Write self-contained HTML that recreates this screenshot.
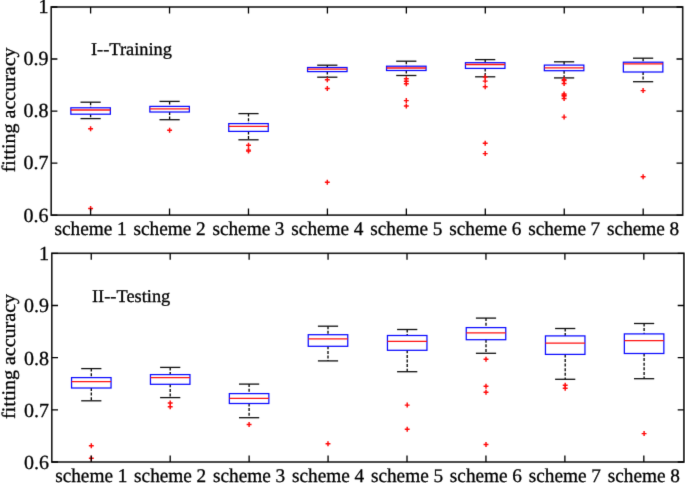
<!DOCTYPE html>
<html><head><meta charset="utf-8"><style>
html,body{margin:0;padding:0;background:#fff;}
body{width:685px;height:483px;overflow:hidden;}
svg{display:block;}
#w{width:685px;height:483px;}
text{font-family:"Liberation Serif",serif;text-rendering:geometricPrecision;fill:#000;stroke:#000;stroke-width:0.3px;}
</style></head><body>
<div id="w"><svg width="685" height="483" viewBox="0 0 685 483">
<defs><filter id="bl" x="0" y="0" width="685" height="483" filterUnits="userSpaceOnUse" color-interpolation-filters="sRGB"><feConvolveMatrix order="3" kernelMatrix="0.0081 0.0738 0.0081 0.0738 0.6724 0.0738 0.0081 0.0738 0.0081" divisor="1" edgeMode="duplicate" preserveAlpha="true"/></filter></defs>
<g filter="url(#bl)">
<rect x="0" y="0" width="685" height="483" fill="#fff"/>

<line x1="90.6" y1="102.2" x2="90.6" y2="107.8" stroke="#000" stroke-width="1.3" stroke-dasharray="3 1.6"/>
<line x1="90.6" y1="114.2" x2="90.6" y2="118.6" stroke="#000" stroke-width="1.3" stroke-dasharray="3 1.6"/>
<line x1="80.5" y1="102.2" x2="100.7" y2="102.2" stroke="#111" stroke-width="1.3"/>
<line x1="80.5" y1="118.6" x2="100.7" y2="118.6" stroke="#111" stroke-width="1.3"/>
<rect x="70.85" y="107.8" width="39.5" height="6.4" fill="none" stroke="#0a0aff" stroke-width="1.25"/>
<line x1="70.85" y1="110" x2="110.35" y2="110" stroke="#ff1010" stroke-width="1.3"/>
<path d="M88.15 128.8H93.05M90.6 126.3V131.3" stroke="#ff0a0a" stroke-width="1.45" fill="none"/>
<path d="M88.15 208.4H93.05M90.6 205.9V210.9" stroke="#ff0a0a" stroke-width="1.45" fill="none"/>
<line x1="169.6" y1="101.4" x2="169.6" y2="106.4" stroke="#000" stroke-width="1.3" stroke-dasharray="3 1.6"/>
<line x1="169.6" y1="112" x2="169.6" y2="119.7" stroke="#000" stroke-width="1.3" stroke-dasharray="3 1.6"/>
<line x1="159.5" y1="101.4" x2="179.7" y2="101.4" stroke="#111" stroke-width="1.3"/>
<line x1="159.5" y1="119.7" x2="179.7" y2="119.7" stroke="#111" stroke-width="1.3"/>
<rect x="149.85" y="106.4" width="39.5" height="5.6" fill="none" stroke="#0a0aff" stroke-width="1.25"/>
<line x1="149.85" y1="108.8" x2="189.35" y2="108.8" stroke="#ff1010" stroke-width="1.3"/>
<path d="M167.15 130.2H172.05M169.6 127.7V132.7" stroke="#ff0a0a" stroke-width="1.45" fill="none"/>
<line x1="248.5" y1="113.6" x2="248.5" y2="123.6" stroke="#000" stroke-width="1.3" stroke-dasharray="3 1.6"/>
<line x1="248.5" y1="131.4" x2="248.5" y2="139.8" stroke="#000" stroke-width="1.3" stroke-dasharray="3 1.6"/>
<line x1="238.4" y1="113.6" x2="258.6" y2="113.6" stroke="#111" stroke-width="1.3"/>
<line x1="238.4" y1="139.8" x2="258.6" y2="139.8" stroke="#111" stroke-width="1.3"/>
<rect x="228.75" y="123.6" width="39.5" height="7.8" fill="none" stroke="#0a0aff" stroke-width="1.25"/>
<line x1="228.75" y1="126.4" x2="268.25" y2="126.4" stroke="#ff1010" stroke-width="1.3"/>
<path d="M246.05 145.3H250.95M248.5 142.8V147.8" stroke="#ff0a0a" stroke-width="1.45" fill="none"/>
<path d="M246.05 150.1H250.95M248.5 147.6V152.6" stroke="#ff0a0a" stroke-width="1.45" fill="none"/>
<path d="M246.05 151.1H250.95M248.5 148.6V153.6" stroke="#ff0a0a" stroke-width="1.45" fill="none"/>
<line x1="327.3" y1="65.2" x2="327.3" y2="67.5" stroke="#000" stroke-width="1.3" stroke-dasharray="3 1.6"/>
<line x1="327.3" y1="71.6" x2="327.3" y2="77.2" stroke="#000" stroke-width="1.3" stroke-dasharray="3 1.6"/>
<line x1="317.2" y1="65.2" x2="337.4" y2="65.2" stroke="#111" stroke-width="1.3"/>
<line x1="317.2" y1="77.2" x2="337.4" y2="77.2" stroke="#111" stroke-width="1.3"/>
<rect x="307.55" y="67.5" width="39.5" height="4.1" fill="none" stroke="#0a0aff" stroke-width="1.25"/>
<line x1="307.55" y1="69.1" x2="347.05" y2="69.1" stroke="#ff1010" stroke-width="1.3"/>
<path d="M324.85 79.8H329.75M327.3 77.3V82.3" stroke="#ff0a0a" stroke-width="1.45" fill="none"/>
<path d="M324.85 88.5H329.75M327.3 86V91" stroke="#ff0a0a" stroke-width="1.45" fill="none"/>
<path d="M324.85 182.3H329.75M327.3 179.8V184.8" stroke="#ff0a0a" stroke-width="1.45" fill="none"/>
<line x1="406.3" y1="61.2" x2="406.3" y2="66.2" stroke="#000" stroke-width="1.3" stroke-dasharray="3 1.6"/>
<line x1="406.3" y1="70.5" x2="406.3" y2="75.5" stroke="#000" stroke-width="1.3" stroke-dasharray="3 1.6"/>
<line x1="396.2" y1="61.2" x2="416.4" y2="61.2" stroke="#111" stroke-width="1.3"/>
<line x1="396.2" y1="75.5" x2="416.4" y2="75.5" stroke="#111" stroke-width="1.3"/>
<rect x="386.55" y="66.2" width="39.5" height="4.3" fill="none" stroke="#0a0aff" stroke-width="1.25"/>
<line x1="386.55" y1="68" x2="426.05" y2="68" stroke="#ff1010" stroke-width="1.3"/>
<path d="M403.85 78.7H408.75M406.3 76.2V81.2" stroke="#ff0a0a" stroke-width="1.45" fill="none"/>
<path d="M403.85 81.2H408.75M406.3 78.7V83.7" stroke="#ff0a0a" stroke-width="1.45" fill="none"/>
<path d="M403.85 83.7H408.75M406.3 81.2V86.2" stroke="#ff0a0a" stroke-width="1.45" fill="none"/>
<path d="M403.85 100.6H408.75M406.3 98.1V103.1" stroke="#ff0a0a" stroke-width="1.45" fill="none"/>
<path d="M403.85 106H408.75M406.3 103.5V108.5" stroke="#ff0a0a" stroke-width="1.45" fill="none"/>
<line x1="485.2" y1="59.6" x2="485.2" y2="62.7" stroke="#000" stroke-width="1.3" stroke-dasharray="3 1.6"/>
<line x1="485.2" y1="68.4" x2="485.2" y2="76.8" stroke="#000" stroke-width="1.3" stroke-dasharray="3 1.6"/>
<line x1="475.1" y1="59.6" x2="495.3" y2="59.6" stroke="#111" stroke-width="1.3"/>
<line x1="475.1" y1="76.8" x2="495.3" y2="76.8" stroke="#111" stroke-width="1.3"/>
<rect x="465.45" y="62.7" width="39.5" height="5.7" fill="none" stroke="#0a0aff" stroke-width="1.25"/>
<line x1="465.45" y1="64.5" x2="504.95" y2="64.5" stroke="#ff1010" stroke-width="1.3"/>
<path d="M482.75 77.1H487.65M485.2 74.6V79.6" stroke="#ff0a0a" stroke-width="1.45" fill="none"/>
<path d="M482.75 81.1H487.65M485.2 78.6V83.6" stroke="#ff0a0a" stroke-width="1.45" fill="none"/>
<path d="M482.75 86.7H487.65M485.2 84.2V89.2" stroke="#ff0a0a" stroke-width="1.45" fill="none"/>
<path d="M482.75 143.3H487.65M485.2 140.8V145.8" stroke="#ff0a0a" stroke-width="1.45" fill="none"/>
<path d="M482.75 153.6H487.65M485.2 151.1V156.1" stroke="#ff0a0a" stroke-width="1.45" fill="none"/>
<line x1="564.1" y1="61.8" x2="564.1" y2="65.1" stroke="#000" stroke-width="1.3" stroke-dasharray="3 1.6"/>
<line x1="564.1" y1="70.7" x2="564.1" y2="77.9" stroke="#000" stroke-width="1.3" stroke-dasharray="3 1.6"/>
<line x1="554" y1="61.8" x2="574.2" y2="61.8" stroke="#111" stroke-width="1.3"/>
<line x1="554" y1="77.9" x2="574.2" y2="77.9" stroke="#111" stroke-width="1.3"/>
<rect x="544.35" y="65.1" width="39.5" height="5.6" fill="none" stroke="#0a0aff" stroke-width="1.25"/>
<line x1="544.35" y1="67.9" x2="583.85" y2="67.9" stroke="#ff1010" stroke-width="1.3"/>
<path d="M561.65 79.6H566.55M564.1 77.1V82.1" stroke="#ff0a0a" stroke-width="1.45" fill="none"/>
<path d="M561.65 80.6H566.55M564.1 78.1V83.1" stroke="#ff0a0a" stroke-width="1.45" fill="none"/>
<path d="M561.65 83.5H566.55M564.1 81V86" stroke="#ff0a0a" stroke-width="1.45" fill="none"/>
<path d="M561.65 94H566.55M564.1 91.5V96.5" stroke="#ff0a0a" stroke-width="1.45" fill="none"/>
<path d="M561.65 95.2H566.55M564.1 92.7V97.7" stroke="#ff0a0a" stroke-width="1.45" fill="none"/>
<path d="M561.65 96H566.55M564.1 93.5V98.5" stroke="#ff0a0a" stroke-width="1.45" fill="none"/>
<path d="M561.65 98.4H566.55M564.1 95.9V100.9" stroke="#ff0a0a" stroke-width="1.45" fill="none"/>
<path d="M561.65 117.1H566.55M564.1 114.6V119.6" stroke="#ff0a0a" stroke-width="1.45" fill="none"/>
<line x1="643.1" y1="58.2" x2="643.1" y2="62.2" stroke="#000" stroke-width="1.3" stroke-dasharray="3 1.6"/>
<line x1="643.1" y1="72" x2="643.1" y2="81.7" stroke="#000" stroke-width="1.3" stroke-dasharray="3 1.6"/>
<line x1="633" y1="58.2" x2="653.2" y2="58.2" stroke="#111" stroke-width="1.3"/>
<line x1="633" y1="81.7" x2="653.2" y2="81.7" stroke="#111" stroke-width="1.3"/>
<rect x="623.35" y="62.2" width="39.5" height="9.8" fill="none" stroke="#0a0aff" stroke-width="1.25"/>
<line x1="623.35" y1="63.9" x2="662.85" y2="63.9" stroke="#ff1010" stroke-width="1.3"/>
<path d="M640.65 90.6H645.55M643.1 88.1V93.1" stroke="#ff0a0a" stroke-width="1.45" fill="none"/>
<path d="M640.65 176.7H645.55M643.1 174.2V179.2" stroke="#ff0a0a" stroke-width="1.45" fill="none"/>
<rect x="51.2" y="7" width="631.5" height="208.1" fill="none" stroke="#1a1a1a" stroke-width="1.6"/>
<path d="M90.6 215.1V208.6M90.6 7V13.5M169.54 215.1V208.6M169.54 7V13.5M248.48 215.1V208.6M248.48 7V13.5M327.42 215.1V208.6M327.42 7V13.5M406.36 215.1V208.6M406.36 7V13.5M485.3 215.1V208.6M485.3 7V13.5M564.24 215.1V208.6M564.24 7V13.5M643.18 215.1V208.6M643.18 7V13.5M51.2 7H57.4M682.7 7H676.5M51.2 59.02H57.4M682.7 59.02H676.5M51.2 111.05H57.4M682.7 111.05H676.5M51.2 163.07H57.4M682.7 163.07H676.5M51.2 215.1H57.4M682.7 215.1H676.5" stroke="#000" stroke-width="1.3" fill="none"/>
<text x="48.5" y="13.4" font-size="20" text-anchor="end">1</text>
<text x="48.5" y="65.42" font-size="20" text-anchor="end">0.9</text>
<text x="48.5" y="117.45" font-size="20" text-anchor="end">0.8</text>
<text x="48.5" y="169.47" font-size="20" text-anchor="end">0.7</text>
<text x="48.5" y="221.5" font-size="20" text-anchor="end">0.6</text>
<text transform="translate(54.5 235) scale(0.984 1)" font-size="19.6">scheme</text>
<text x="121.8" y="235" font-size="19.3" text-anchor="middle">1</text>
<text transform="translate(133.44 235) scale(0.984 1)" font-size="19.6">scheme</text>
<text x="200.74" y="235" font-size="19.3" text-anchor="middle">2</text>
<text transform="translate(212.38 235) scale(0.984 1)" font-size="19.6">scheme</text>
<text x="279.68" y="235" font-size="19.3" text-anchor="middle">3</text>
<text transform="translate(291.32 235) scale(0.984 1)" font-size="19.6">scheme</text>
<text x="358.62" y="235" font-size="19.3" text-anchor="middle">4</text>
<text transform="translate(370.26 235) scale(0.984 1)" font-size="19.6">scheme</text>
<text x="437.56" y="235" font-size="19.3" text-anchor="middle">5</text>
<text transform="translate(449.2 235) scale(0.984 1)" font-size="19.6">scheme</text>
<text x="516.5" y="235" font-size="19.3" text-anchor="middle">6</text>
<text transform="translate(528.14 235) scale(0.984 1)" font-size="19.6">scheme</text>
<text x="595.44" y="235" font-size="19.3" text-anchor="middle">7</text>
<text transform="translate(607.08 235) scale(0.984 1)" font-size="19.6">scheme</text>
<text x="674.38" y="235" font-size="19.3" text-anchor="middle">8</text>
<text transform="translate(91 55.2) scale(1.02 1)" x="0" y="0" font-size="18.0">I--Training</text>
<text transform="translate(14.8 109.85) rotate(-90) scale(1.042 1)" x="0" y="0" font-size="19.2" text-anchor="middle">fitting accuracy</text>
<line x1="91.3" y1="368.6" x2="91.3" y2="377.6" stroke="#000" stroke-width="1.3" stroke-dasharray="3 1.6"/>
<line x1="91.3" y1="388" x2="91.3" y2="400.8" stroke="#000" stroke-width="1.3" stroke-dasharray="3 1.6"/>
<line x1="81.2" y1="368.6" x2="101.4" y2="368.6" stroke="#111" stroke-width="1.3"/>
<line x1="81.2" y1="400.8" x2="101.4" y2="400.8" stroke="#111" stroke-width="1.3"/>
<rect x="71.55" y="377.6" width="39.5" height="10.4" fill="none" stroke="#0a0aff" stroke-width="1.25"/>
<line x1="71.55" y1="381.7" x2="111.05" y2="381.7" stroke="#ff1010" stroke-width="1.3"/>
<path d="M88.85 445.7H93.75M91.3 443.2V448.2" stroke="#ff0a0a" stroke-width="1.45" fill="none"/>
<path d="M88.85 458.3H93.75M91.3 455.8V460.8" stroke="#ff0a0a" stroke-width="1.45" fill="none"/>
<line x1="170.2" y1="367.4" x2="170.2" y2="374.6" stroke="#000" stroke-width="1.3" stroke-dasharray="3 1.6"/>
<line x1="170.2" y1="384.3" x2="170.2" y2="397.6" stroke="#000" stroke-width="1.3" stroke-dasharray="3 1.6"/>
<line x1="160.1" y1="367.4" x2="180.3" y2="367.4" stroke="#111" stroke-width="1.3"/>
<line x1="160.1" y1="397.6" x2="180.3" y2="397.6" stroke="#111" stroke-width="1.3"/>
<rect x="150.45" y="374.6" width="39.5" height="9.7" fill="none" stroke="#0a0aff" stroke-width="1.25"/>
<line x1="150.45" y1="377.7" x2="189.95" y2="377.7" stroke="#ff1010" stroke-width="1.3"/>
<path d="M167.75 403H172.65M170.2 400.5V405.5" stroke="#ff0a0a" stroke-width="1.45" fill="none"/>
<path d="M167.75 406.7H172.65M170.2 404.2V409.2" stroke="#ff0a0a" stroke-width="1.45" fill="none"/>
<line x1="249.1" y1="384.1" x2="249.1" y2="393.6" stroke="#000" stroke-width="1.3" stroke-dasharray="3 1.6"/>
<line x1="249.1" y1="403.5" x2="249.1" y2="417.7" stroke="#000" stroke-width="1.3" stroke-dasharray="3 1.6"/>
<line x1="239" y1="384.1" x2="259.2" y2="384.1" stroke="#111" stroke-width="1.3"/>
<line x1="239" y1="417.7" x2="259.2" y2="417.7" stroke="#111" stroke-width="1.3"/>
<rect x="229.35" y="393.6" width="39.5" height="9.9" fill="none" stroke="#0a0aff" stroke-width="1.25"/>
<line x1="229.35" y1="398.3" x2="268.85" y2="398.3" stroke="#ff1010" stroke-width="1.3"/>
<path d="M246.65 424.5H251.55M249.1 422V427" stroke="#ff0a0a" stroke-width="1.45" fill="none"/>
<line x1="328" y1="326.2" x2="328" y2="334.7" stroke="#000" stroke-width="1.3" stroke-dasharray="3 1.6"/>
<line x1="328" y1="346.3" x2="328" y2="360.9" stroke="#000" stroke-width="1.3" stroke-dasharray="3 1.6"/>
<line x1="317.9" y1="326.2" x2="338.1" y2="326.2" stroke="#111" stroke-width="1.3"/>
<line x1="317.9" y1="360.9" x2="338.1" y2="360.9" stroke="#111" stroke-width="1.3"/>
<rect x="308.25" y="334.7" width="39.5" height="11.6" fill="none" stroke="#0a0aff" stroke-width="1.25"/>
<line x1="308.25" y1="338.9" x2="347.75" y2="338.9" stroke="#ff1010" stroke-width="1.3"/>
<path d="M325.55 443.7H330.45M328 441.2V446.2" stroke="#ff0a0a" stroke-width="1.45" fill="none"/>
<line x1="407.2" y1="329.5" x2="407.2" y2="335.5" stroke="#000" stroke-width="1.3" stroke-dasharray="3 1.6"/>
<line x1="407.2" y1="350.3" x2="407.2" y2="371.7" stroke="#000" stroke-width="1.3" stroke-dasharray="3 1.6"/>
<line x1="397.1" y1="329.5" x2="417.3" y2="329.5" stroke="#111" stroke-width="1.3"/>
<line x1="397.1" y1="371.7" x2="417.3" y2="371.7" stroke="#111" stroke-width="1.3"/>
<rect x="387.45" y="335.5" width="39.5" height="14.8" fill="none" stroke="#0a0aff" stroke-width="1.25"/>
<line x1="387.45" y1="341.3" x2="426.95" y2="341.3" stroke="#ff1010" stroke-width="1.3"/>
<path d="M404.75 405.1H409.65M407.2 402.6V407.6" stroke="#ff0a0a" stroke-width="1.45" fill="none"/>
<path d="M404.75 429.3H409.65M407.2 426.8V431.8" stroke="#ff0a0a" stroke-width="1.45" fill="none"/>
<line x1="486" y1="318.1" x2="486" y2="327.6" stroke="#000" stroke-width="1.3" stroke-dasharray="3 1.6"/>
<line x1="486" y1="339.7" x2="486" y2="353.3" stroke="#000" stroke-width="1.3" stroke-dasharray="3 1.6"/>
<line x1="475.9" y1="318.1" x2="496.1" y2="318.1" stroke="#111" stroke-width="1.3"/>
<line x1="475.9" y1="353.3" x2="496.1" y2="353.3" stroke="#111" stroke-width="1.3"/>
<rect x="466.25" y="327.6" width="39.5" height="12.1" fill="none" stroke="#0a0aff" stroke-width="1.25"/>
<line x1="466.25" y1="332.8" x2="505.75" y2="332.8" stroke="#ff1010" stroke-width="1.3"/>
<path d="M483.55 359.3H488.45M486 356.8V361.8" stroke="#ff0a0a" stroke-width="1.45" fill="none"/>
<path d="M483.55 386.2H488.45M486 383.7V388.7" stroke="#ff0a0a" stroke-width="1.45" fill="none"/>
<path d="M483.55 392.2H488.45M486 389.7V394.7" stroke="#ff0a0a" stroke-width="1.45" fill="none"/>
<path d="M483.55 444.4H488.45M486 441.9V446.9" stroke="#ff0a0a" stroke-width="1.45" fill="none"/>
<line x1="565.2" y1="328.5" x2="565.2" y2="335.9" stroke="#000" stroke-width="1.3" stroke-dasharray="3 1.6"/>
<line x1="565.2" y1="354.4" x2="565.2" y2="379.3" stroke="#000" stroke-width="1.3" stroke-dasharray="3 1.6"/>
<line x1="555.1" y1="328.5" x2="575.3" y2="328.5" stroke="#111" stroke-width="1.3"/>
<line x1="555.1" y1="379.3" x2="575.3" y2="379.3" stroke="#111" stroke-width="1.3"/>
<rect x="545.45" y="335.9" width="39.5" height="18.5" fill="none" stroke="#0a0aff" stroke-width="1.25"/>
<line x1="545.45" y1="343.2" x2="584.95" y2="343.2" stroke="#ff1010" stroke-width="1.3"/>
<path d="M562.75 385.2H567.65M565.2 382.7V387.7" stroke="#ff0a0a" stroke-width="1.45" fill="none"/>
<path d="M562.75 388.3H567.65M565.2 385.8V390.8" stroke="#ff0a0a" stroke-width="1.45" fill="none"/>
<line x1="644.1" y1="323.5" x2="644.1" y2="333.9" stroke="#000" stroke-width="1.3" stroke-dasharray="3 1.6"/>
<line x1="644.1" y1="353.5" x2="644.1" y2="378.7" stroke="#000" stroke-width="1.3" stroke-dasharray="3 1.6"/>
<line x1="634" y1="323.5" x2="654.2" y2="323.5" stroke="#111" stroke-width="1.3"/>
<line x1="634" y1="378.7" x2="654.2" y2="378.7" stroke="#111" stroke-width="1.3"/>
<rect x="624.35" y="333.9" width="39.5" height="19.6" fill="none" stroke="#0a0aff" stroke-width="1.25"/>
<line x1="624.35" y1="340.6" x2="663.85" y2="340.6" stroke="#ff1010" stroke-width="1.3"/>
<path d="M641.65 433.6H646.55M644.1 431.1V436.1" stroke="#ff0a0a" stroke-width="1.45" fill="none"/>
<rect x="51.8" y="253.3" width="632.1" height="208.7" fill="none" stroke="#1a1a1a" stroke-width="1.6"/>
<path d="M91.25 462V455.5M91.25 253.3V259.8M170.19 462V455.5M170.19 253.3V259.8M249.13 462V455.5M249.13 253.3V259.8M328.07 462V455.5M328.07 253.3V259.8M407.01 462V455.5M407.01 253.3V259.8M485.95 462V455.5M485.95 253.3V259.8M564.89 462V455.5M564.89 253.3V259.8M643.83 462V455.5M643.83 253.3V259.8M51.8 253.3H58M683.9 253.3H677.7M51.8 305.48H58M683.9 305.48H677.7M51.8 357.65H58M683.9 357.65H677.7M51.8 409.82H58M683.9 409.82H677.7M51.8 462H58M683.9 462H677.7" stroke="#000" stroke-width="1.3" fill="none"/>
<text x="49.1" y="260.2" font-size="20" text-anchor="end">1</text>
<text x="49.1" y="312.38" font-size="20" text-anchor="end">0.9</text>
<text x="49.1" y="364.55" font-size="20" text-anchor="end">0.8</text>
<text x="49.1" y="416.72" font-size="20" text-anchor="end">0.7</text>
<text x="49.1" y="468.9" font-size="20" text-anchor="end">0.6</text>
<text transform="translate(55.15 481.9) scale(0.984 1)" font-size="19.6">scheme</text>
<text x="122.45" y="481.9" font-size="19.3" text-anchor="middle">1</text>
<text transform="translate(134.09 481.9) scale(0.984 1)" font-size="19.6">scheme</text>
<text x="201.39" y="481.9" font-size="19.3" text-anchor="middle">2</text>
<text transform="translate(213.03 481.9) scale(0.984 1)" font-size="19.6">scheme</text>
<text x="280.33" y="481.9" font-size="19.3" text-anchor="middle">3</text>
<text transform="translate(291.97 481.9) scale(0.984 1)" font-size="19.6">scheme</text>
<text x="359.27" y="481.9" font-size="19.3" text-anchor="middle">4</text>
<text transform="translate(370.91 481.9) scale(0.984 1)" font-size="19.6">scheme</text>
<text x="438.21" y="481.9" font-size="19.3" text-anchor="middle">5</text>
<text transform="translate(449.85 481.9) scale(0.984 1)" font-size="19.6">scheme</text>
<text x="517.15" y="481.9" font-size="19.3" text-anchor="middle">6</text>
<text transform="translate(528.79 481.9) scale(0.984 1)" font-size="19.6">scheme</text>
<text x="596.09" y="481.9" font-size="19.3" text-anchor="middle">7</text>
<text transform="translate(607.73 481.9) scale(0.984 1)" font-size="19.6">scheme</text>
<text x="675.03" y="481.9" font-size="19.3" text-anchor="middle">8</text>
<text transform="translate(92 301.8) scale(1.02 1)" x="0" y="0" font-size="18.0">II--Testing</text>
<text transform="translate(14.8 356.45) rotate(-90) scale(1.042 1)" x="0" y="0" font-size="19.2" text-anchor="middle">fitting accuracy</text>
</g></svg></div>
</body></html>
